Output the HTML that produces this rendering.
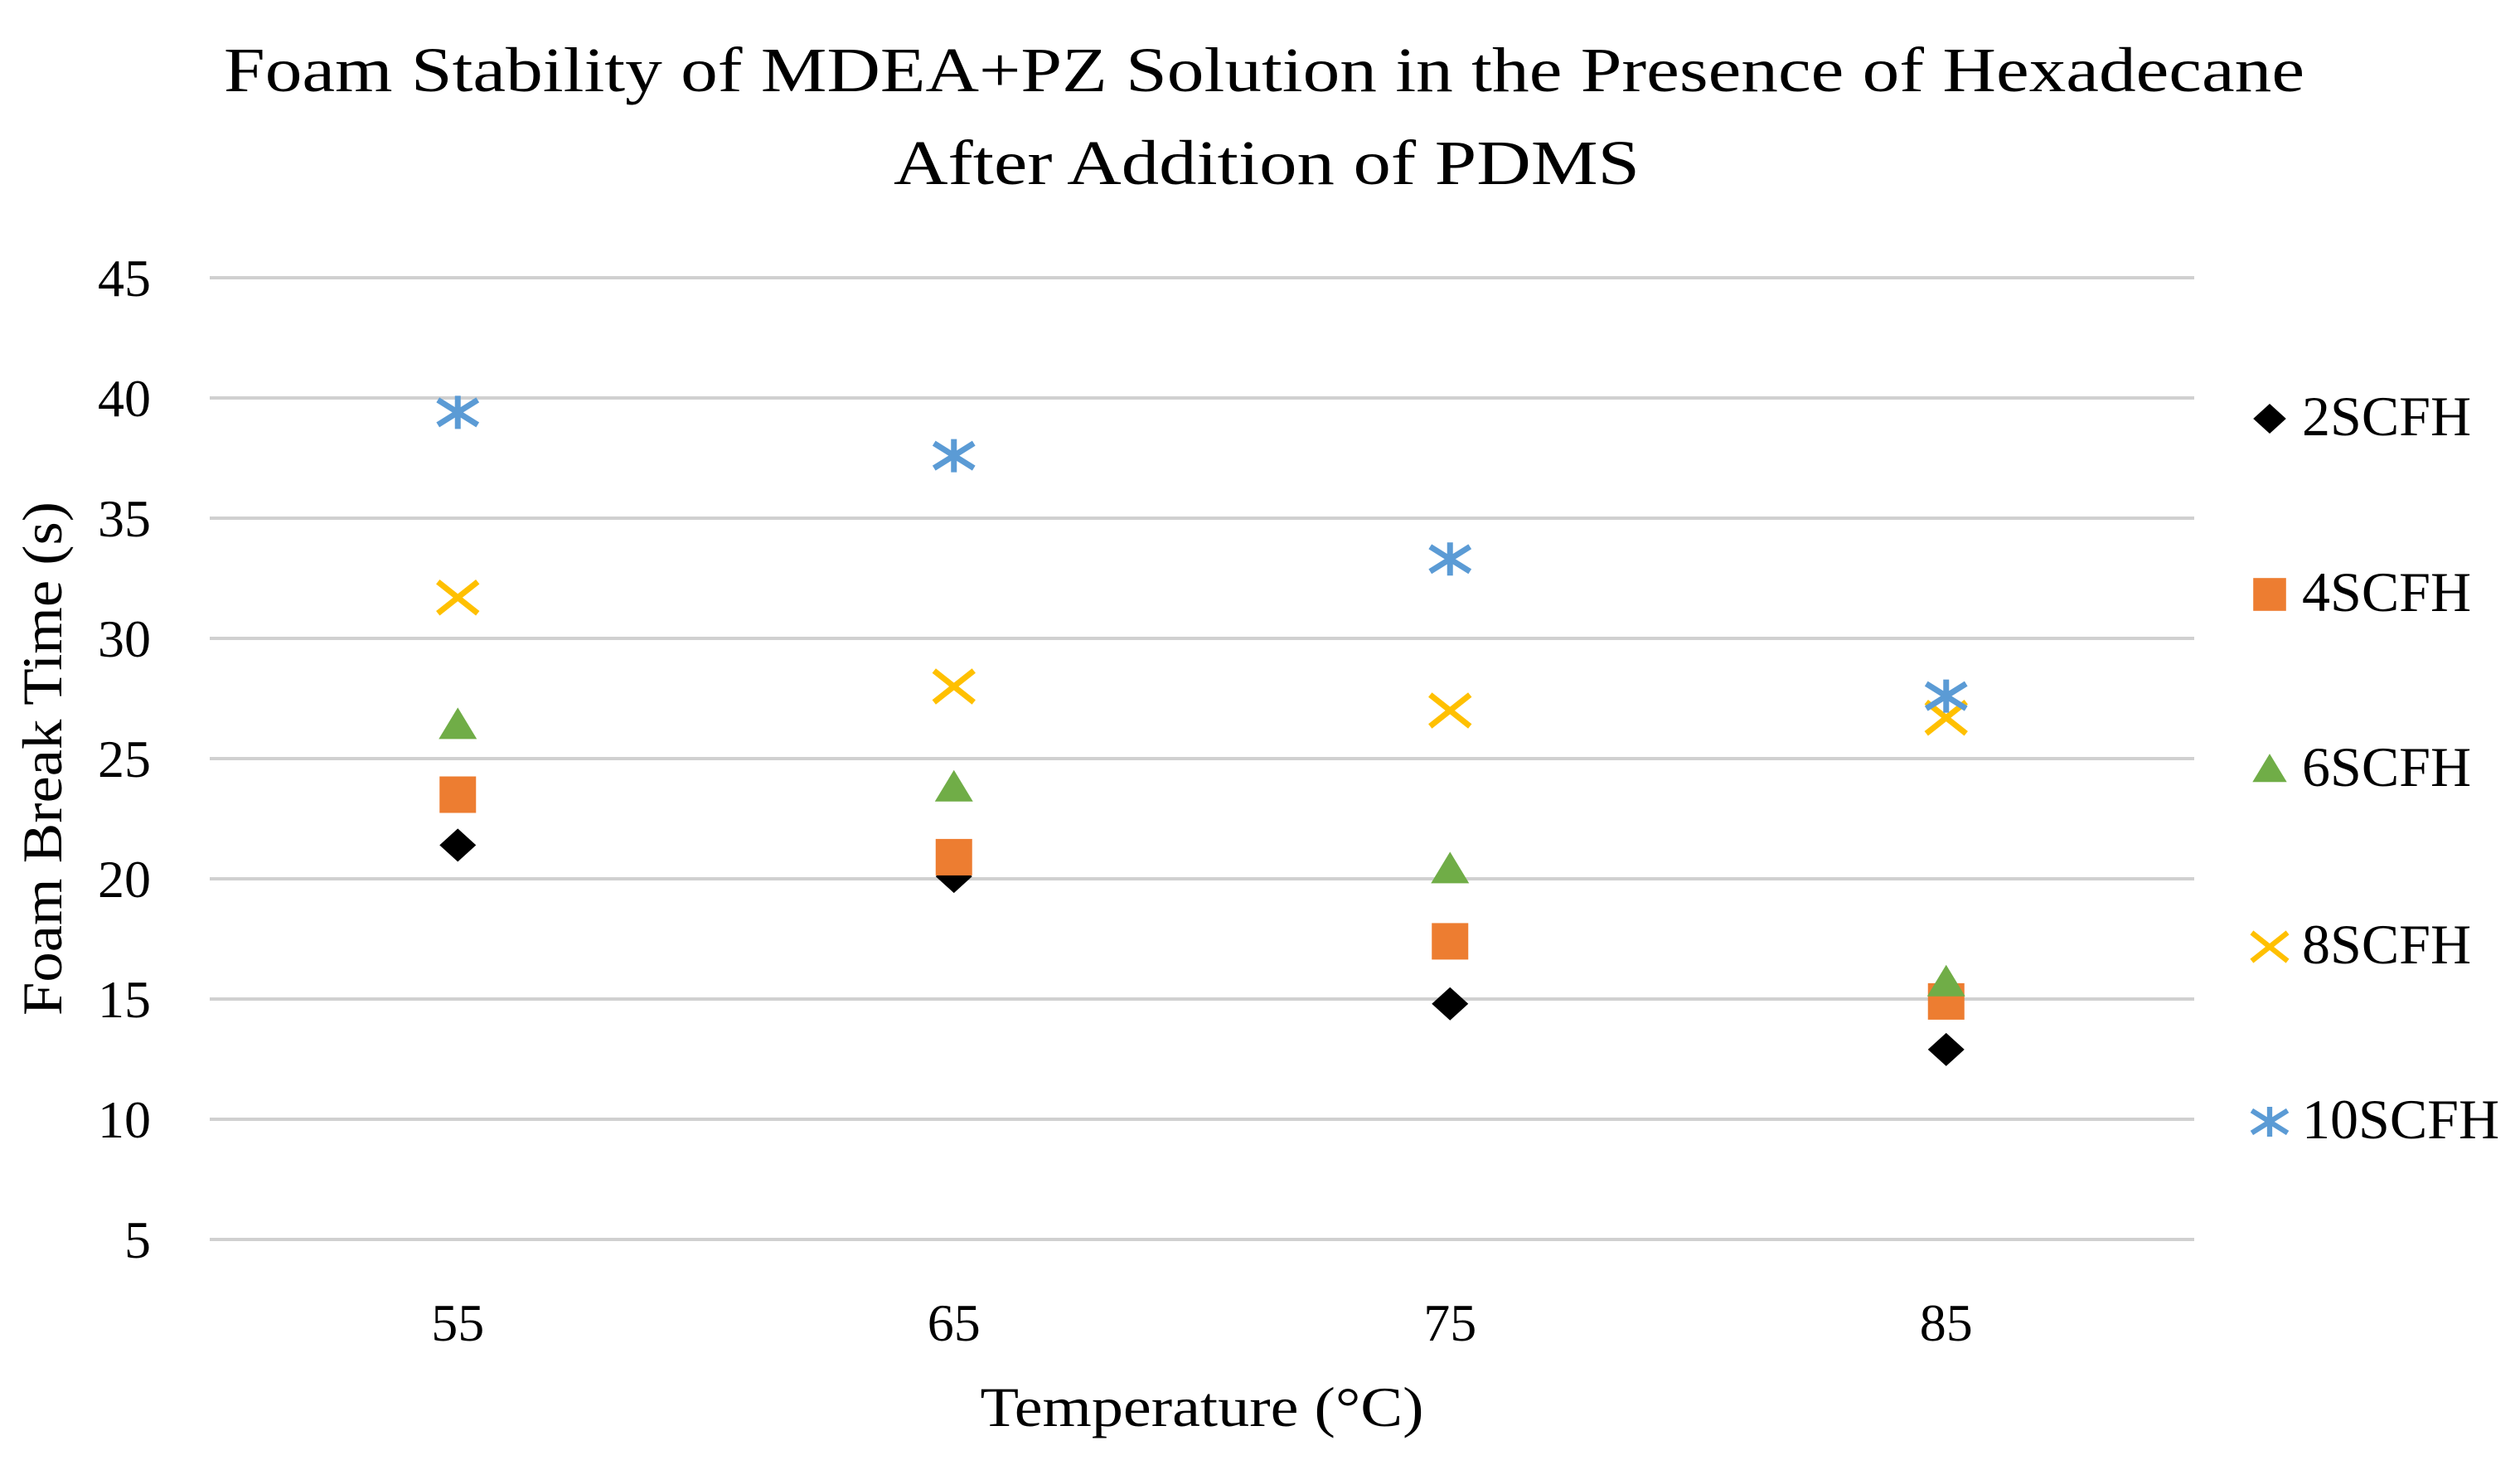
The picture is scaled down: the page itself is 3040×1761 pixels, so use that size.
<!DOCTYPE html>
<html><head><meta charset="utf-8"><style>
html,body{margin:0;padding:0;background:#fff;}
svg{display:block;font-family:"Liberation Serif",serif;}
</style></head><body>
<svg id="chart" width="3040" height="1761" viewBox="0 0 3040 1761" xmlns="http://www.w3.org/2000/svg">
<rect width="3040" height="1761" fill="#fff"/>
<text x="1525" y="110" font-size="76" text-anchor="middle" textLength="2510" lengthAdjust="spacingAndGlyphs">Foam Stability of MDEA+PZ Solution in the Presence of Hexadecane</text>
<text x="1528" y="222" font-size="76" text-anchor="middle" textLength="900" lengthAdjust="spacingAndGlyphs">After Addition of PDMS</text>
<g id="grid"></g><g id="yticks"></g><g id="xticks"></g><g id="marks"></g><g id="legend"></g>
<text x="1450" y="1720" font-size="68" text-anchor="middle" textLength="535" lengthAdjust="spacingAndGlyphs">Temperature (°C)</text>
<text transform="translate(74,915) rotate(-90)" font-size="68" text-anchor="middle" textLength="620" lengthAdjust="spacingAndGlyphs">Foam Break Time (s)</text>
</svg>
<script>
const categories = ["55","65","75","85"];
const yTicks = [5,10,15,20,25,30,35,40,45];
const seriesNames = ["2SCFH","4SCFH","6SCFH","8SCFH","10SCFH"];
const s2 = [21.4,20.1,14.8,12.9];
const s4 = [23.5,20.9,17.4,14.9];
const s6 = [26.4,23.8,20.4,15.7];
const s8 = [31.7,28.0,27.0,26.7];
const s10 = [39.4,37.6,33.3,27.6];

const NS="http://www.w3.org/2000/svg";
const L=253,R=2647,T=335,B=1495,yMin=5,yMax=45;
const yS=v=>B-(v-yMin)/(yMax-yMin)*(B-T);
const band=(R-L)/categories.length;
const xS=i=>L+band*(i+0.5);
function mk(tag,attrs,parent){const e=document.createElementNS(NS,tag);for(const k in attrs)e.setAttribute(k,attrs[k]);parent.appendChild(e);return e;}
const grid=document.getElementById('grid'),yt=document.getElementById('yticks'),xt=document.getElementById('xticks'),marks=document.getElementById('marks'),leg=document.getElementById('legend');
yTicks.forEach(v=>{
  const l=mk('line',{x1:L,x2:R,y1:yS(v),y2:yS(v),stroke:'#d0d0d0','stroke-width':4},grid);
  
  
  const t=mk('text',{x:182,y:yS(v)+22,'font-size':64,'text-anchor':'end'},yt);
  t.textContent=v;
  
  
});
categories.forEach((c,i)=>{
  const t=mk('text',{x:xS(i),y:1617,'font-size':64,'text-anchor':'middle'},xt);
  t.textContent=c;
  
  
});
function drawMarker(type,cx,cy,g){
  let e;
  if(type===0){e=mk('polygon',{points:`${cx-22},${cy} ${cx},${cy-20} ${cx+22},${cy} ${cx},${cy+20}`,fill:'#000'},g);}
  else if(type===1){e=mk('rect',{x:cx-22,y:cy-22,width:44,height:44,fill:'#ED7D31'},g);}
  else if(type===2){e=mk('polygon',{points:`${cx-23},${cy+17} ${cx},${cy-21} ${cx+23},${cy+17}`,fill:'#70AD47'},g);}
  else if(type===3){e=mk('path',{d:`M${cx-24},${cy-19}L${cx+24},${cy+19}M${cx-24},${cy+19}L${cx+24},${cy-19}`,stroke:'#FFC000','stroke-width':7,fill:'none'},g);}
  else {e=mk('path',{d:`M${cx-24},${cy-15}L${cx+24},${cy+15}M${cx-24},${cy+15}L${cx+24},${cy-15}M${cx},${cy-20}L${cx},${cy+20}`,stroke:'#5B9BD5','stroke-width':7,fill:'none'},g);}
  return e;
}
const allSeries=[s2,s4,s6,s8,s10];
allSeries.forEach((s,si)=>{
  s.forEach((v,i)=>{
    const e=drawMarker(si,xS(i),yS(v),marks);
    
    
  });
});
const legY=[505,717,928,1142,1353];
seriesNames.forEach((n,si)=>{
  const g=mk('g',{},leg);
  
  
  const m=drawMarker(si,2738,legY[si],g);
  m.setAttribute('transform',`translate(${2738*0.1},${legY[si]*0.1}) scale(0.9)`);
  const t=mk('text',{x:2777,y:legY[si]+20,'font-size':68},g);
  t.textContent=n;
});
</script>
</body></html>
